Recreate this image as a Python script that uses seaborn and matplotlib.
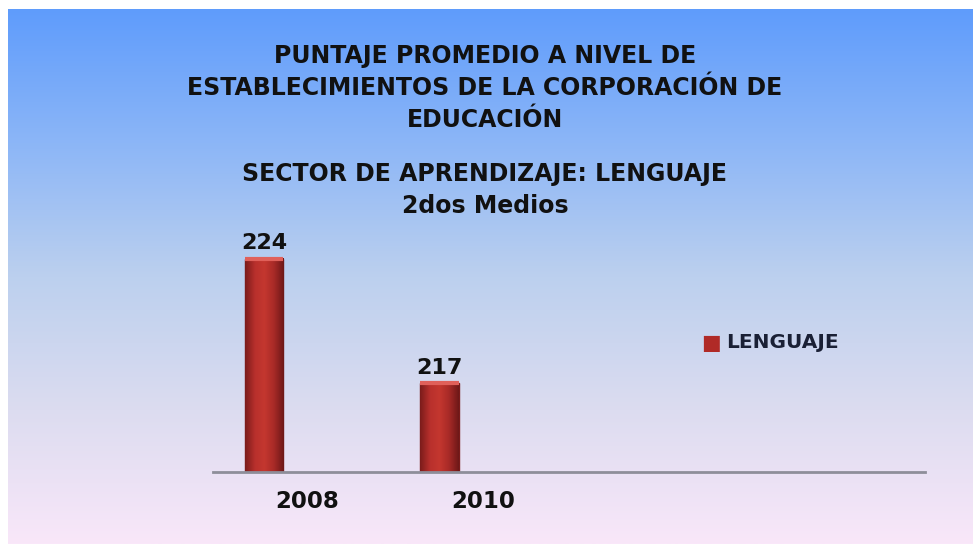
import numpy as np
import pandas as pd
import matplotlib
matplotlib.use("Agg")
import matplotlib.pyplot as plt
import matplotlib.transforms as mtransforms
import seaborn as sns

# Data
years = ["2008", "2010", " ", "  "]
scores = [224, 217, np.nan, np.nan]
series_name = "LENGUAJE"

title_lines = "PUNTAJE PROMEDIO A NIVEL DE\nESTABLECIMIENTOS DE LA CORPORACIÓN DE\nEDUCACIÓN"
subtitle_lines = "SECTOR DE APRENDIZAJE: LENGUAJE\n2dos Medios"

df = pd.DataFrame({"Año": years, "Puntaje": scores, "Serie": series_name})

sns.set_style("white")
plt.rcParams["font.family"] = ["DejaVu Sans"]

fig = plt.figure(figsize=(9.73, 5.44), dpi=100)
fig.patch.set_facecolor("white")

# gradient background (blue at top -> pale pink at bottom)
bg = fig.add_axes([8 / 973, 0, 1 - 8 / 973, 1 - 9 / 544], zorder=0)
grad = np.linspace(0, 1, 256).reshape(-1, 1)
cmap = matplotlib.colors.LinearSegmentedColormap.from_list(
    "bg", ["#5f9cfc", "#8cb6f7", "#bcd0ee", "#dcdcf0", "#f9e7f9"])
bg.imshow(grad, aspect="auto", cmap=cmap, extent=[0, 1, 0, 1], origin="upper")
bg.set_axis_off()

ax = fig.add_axes([213 / 973, 1 - 472 / 544, 712 / 973, 249 / 544], zorder=1)
ax.patch.set_alpha(0)
sns.barplot(data=df, x="Año", y="Puntaje", hue="Serie", palette=["#b02a27"],
            width=0.22, dodge=False, ax=ax, edgecolor="#7a1b1a", linewidth=1.0,
            legend=False)

ymin, ymax = 212, 226
ax.set_ylim(ymin, ymax)
ax.set_xlim(-0.29, 3.76)

# cylinder-like shading on the bars
shade = matplotlib.colors.LinearSegmentedColormap.from_list(
    "bar", ["#7c1c1b", "#b8302c", "#c4372f", "#a82a27", "#6e1818"])
hgrad = np.linspace(0, 1, 64).reshape(1, -1)
for p in list(ax.patches):
    if np.isnan(p.get_height()) or p.get_height() == 0:
        continue
    x0, w, top = p.get_x(), p.get_width(), p.get_y() + p.get_height()
    im = ax.imshow(hgrad, cmap=shade, aspect="auto", extent=[x0, x0 + w, ymin, top],
                   zorder=p.get_zorder() + 0.1)
    ax.plot([x0, x0 + w], [top, top], color="#e0605a", lw=3,
            solid_capstyle="butt", zorder=p.get_zorder() + 0.2)
ax.set_xlim(-0.29, 3.76)
ax.set_ylim(ymin, ymax)

ax.set_yticks([])
ax.set_xlabel("")
ax.set_ylabel("")
for s in ["top", "right", "left"]:
    ax.spines[s].set_visible(False)
ax.spines["bottom"].set_color("#8e8e9a")
ax.spines["bottom"].set_linewidth(2)
ax.tick_params(axis="x", length=0, pad=13)

# tick labels sit to the right of the bars in the original
shift = mtransforms.ScaledTranslation(43 / 100, 0, fig.dpi_scale_trans)
for lbl in ax.get_xticklabels():
    lbl.set_transform(lbl.get_transform() + shift)
    lbl.set_fontsize(16.5)
    lbl.set_fontweight("bold")
    lbl.set_color("#111111")

for c in ax.containers:
    ax.bar_label(c, labels=[f"{v:.0f}" if not np.isnan(v) else "" for v in c.datavalues],
                 padding=4, fontsize=16, fontweight="bold", color="#111111")

# legend
fig.text(701 / 973, 1 - 343 / 544, "■", color="#b02a27", fontsize=15,
         va="center", ha="left")
fig.text(726 / 973, 1 - 343 / 544, series_name, color="#1a2035", fontsize=14.5,
         va="center", ha="left", fontweight="bold")

fig.text(485 / 973, 1 - 44 / 544, title_lines, ha="center", va="top",
         fontsize=17, fontweight="bold", color="#111111", linespacing=1.42)
fig.text(485 / 973, 1 - 162 / 544, subtitle_lines, ha="center", va="top",
         fontsize=17, fontweight="bold", color="#111111", linespacing=1.42)

fig.savefig("out.png", dpi=100, facecolor=fig.get_facecolor())
